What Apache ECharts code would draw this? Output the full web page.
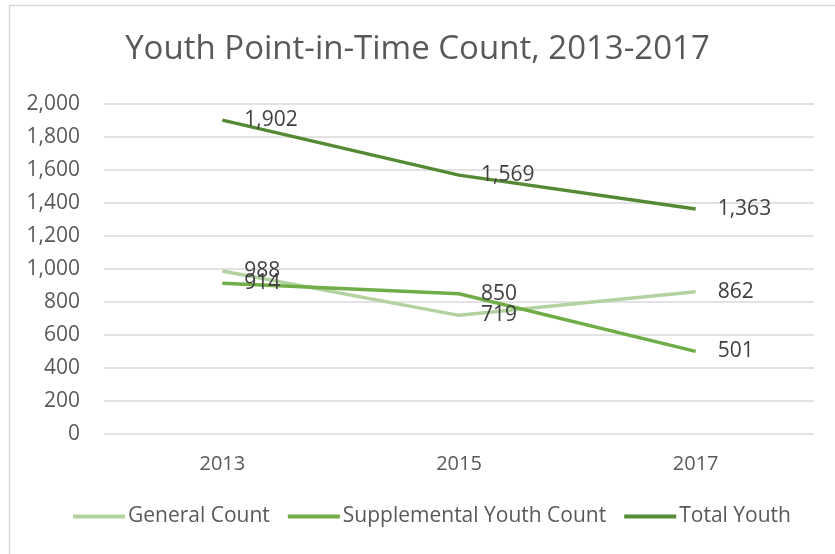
<!DOCTYPE html>
<html>
<head>
<meta charset="utf-8">
<script src="https://cdn.jsdelivr.net/npm/echarts@6/dist/echarts.min.js"></script>
<style>
html,body{margin:0;padding:0;background:#fff;}
#c{width:835px;height:554px;}
</style>
</head>
<body>
<div id="c"></div>
<script>
var categories = ['2013', '2015', '2017'];
var generalCount = [988, 719, 862];
var supplementalCount = [914, 850, 501];
var totalYouth = [1902, 1569, 1363];
var seriesNames = ['General Count', 'Supplemental Youth Count', 'Total Youth'];
var seriesColors = ['#b2d3a0', '#70ad47', '#558a35'];
var titleText = 'Youth Point-in-Time Count, 2013-2017';

var FONT = '"Open Sans", "Liberation Sans", sans-serif';
var chart = echarts.init(document.getElementById('c'), null, {renderer: 'canvas'});

function mk(name, data, color) {
  return {
    name: name,
    type: 'line',
    data: data,
    symbol: 'circle',
    symbolSize: 0.01,
    showSymbol: true,
    lineStyle: {color: color, width: 3.5},
    itemStyle: {color: color},
    label: {
      show: true,
      position: 'right',
      distance: 22,
      color: '#404040',
      fontFamily: FONT,
      fontSize: 21,
      formatter: function (p) { return Number(p.value).toLocaleString('en-US'); }
    },
    labelLayout: {hideOverlap: false},
    emphasis: {disabled: true},
    animation: false
  };
}

chart.setOption({
  animation: false,
  backgroundColor: '#fff',
  graphic: [{
    type: 'rect',
    shape: {x: 9.5, y: 5.5, width: 840, height: 560},
    style: {fill: 'none', stroke: '#d9d9d9', lineWidth: 1.5},
    silent: true
  }],
  title: {
    text: titleText,
    left: 'center',
    top: 28,
    textStyle: {color: '#595959', fontFamily: FONT, fontWeight: 'normal', fontSize: 33}
  },
  legend: {
    bottom: 22,
    left: 68,
    itemWidth: 52,
    itemHeight: 4,
    itemGap: 18,
    icon: 'rect',
    textStyle: {color: '#595959', fontFamily: FONT, fontSize: 21, padding: [0, 0, 0, -2]},
    data: seriesNames
  },
  grid: {left: 104, right: 21, top: 104, bottom: 120},
  xAxis: {
    type: 'category',
    data: categories,
    boundaryGap: true,
    axisLine: {show: false},
    axisTick: {show: false},
    axisLabel: {color: '#595959', fontFamily: FONT, fontSize: 20, margin: 20}
  },
  yAxis: {
    type: 'value',
    min: 0,
    max: 2000,
    interval: 200,
    axisLine: {show: false},
    axisTick: {show: false},
    splitLine: {lineStyle: {color: '#d9d9d9', width: 1.5}},
    axisLabel: {
      color: '#595959', fontFamily: FONT, fontSize: 21, margin: 24,
      formatter: function (v) { return Number(v).toLocaleString('en-US'); }
    }
  },
  series: [
    mk(seriesNames[0], generalCount, seriesColors[0]),
    mk(seriesNames[1], supplementalCount, seriesColors[1]),
    mk(seriesNames[2], totalYouth, seriesColors[2])
  ]
});
</script>
</body>
</html>
